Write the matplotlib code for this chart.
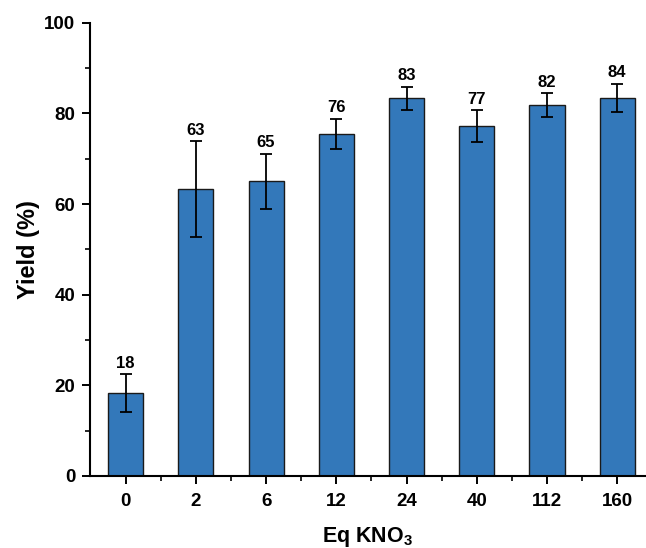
import numpy as np
import matplotlib
matplotlib.use("Agg")
import matplotlib.pyplot as plt
from matplotlib.ticker import MultipleLocator

plt.rcParams['font.family'] = ['Liberation Sans', 'DejaVu Sans']
plt.rcParams['font.weight'] = 'bold'
plt.rcParams['mathtext.fontset'] = 'custom'
plt.rcParams['mathtext.bf'] = 'Liberation Sans:bold'
plt.rcParams['mathtext.rm'] = 'Liberation Sans:bold'
plt.rcParams['mathtext.default'] = 'bf'

# datos
eq_kno3 = ['0', '2', '6', '12', '24', '40', '112', '160']
yield_pct = [18.3, 63.3, 65.0, 75.5, 83.3, 77.2, 81.9, 83.5]
yield_err = [4.1, 10.6, 6.1, 3.3, 2.6, 3.5, 2.6, 3.1]
bar_labels = ['18', '63', '65', '76', '83', '77', '82', '84']

fig = plt.figure(figsize=(6.46, 5.48), dpi=100)
ax = fig.add_axes([0.139, 0.1314, 0.861, 0.827])

x = np.arange(len(eq_kno3))
ax.bar(x, yield_pct, width=0.5, color='#3378BA', edgecolor='#1a1a1a', linewidth=1.0,
       yerr=yield_err, error_kw=dict(ecolor='black', elinewidth=1.3, capsize=4, capthick=1.3))

for xi, v, e, lab in zip(x, yield_pct, yield_err, bar_labels):
    ax.annotate(lab, (xi, v + e), xytext=(0, 2.5), textcoords='offset points',
                ha='center', va='bottom', fontsize=12, fontweight='bold')

ax.set_xticks(x)
ax.set_xticklabels(eq_kno3)
ax.set_xticks(x[:-1] + 0.5, minor=True)
ax.yaxis.set_major_locator(MultipleLocator(20))
ax.yaxis.set_minor_locator(MultipleLocator(10))
ax.set_xlim(-0.51, 7.41)
ax.set_ylim(0, 100)

for side in ['top', 'right']:
    ax.spines[side].set_visible(False)
for side in ['left', 'bottom']:
    ax.spines[side].set_linewidth(1.5)

ax.tick_params(which='major', direction='out', length=6, width=1.4, labelsize=13.5)
ax.tick_params(axis='y', which='major', pad=4.5)
ax.tick_params(axis='x', which='major', pad=6)
ax.tick_params(which='minor', direction='out', length=3.5, width=1.2)

ax.set_ylabel('Yield (%)', fontsize=17, fontweight='bold', labelpad=3)
ax.set_xlabel('Eq KNO$_3$', fontsize=15.5, fontweight='bold', labelpad=11)

fig.savefig('out.png', dpi=100)
